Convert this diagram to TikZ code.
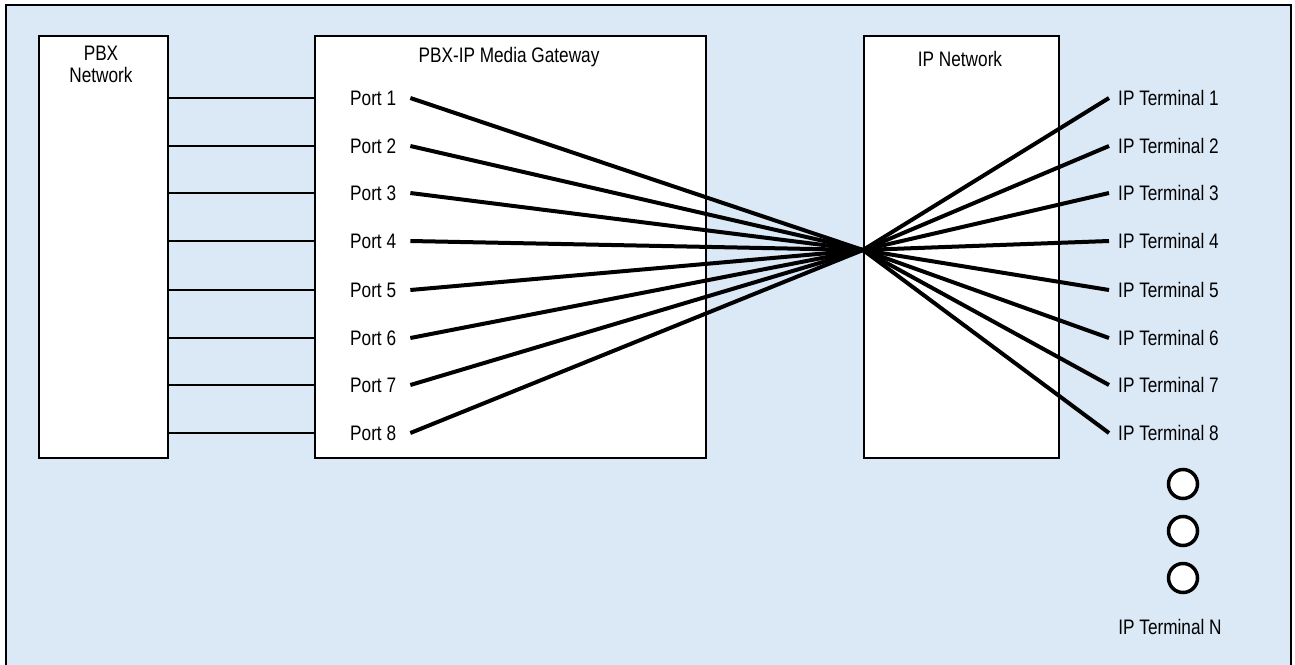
\documentclass[tikz,border=0pt]{standalone}
\usepackage{fontspec}
\setmainfont{Liberation Sans}[FakeStretch=0.82]
\definecolor{bgblue}{RGB}{219,232,246}
\begin{document}
\begin{tikzpicture}[x=1pt,y=-1pt,
  box/.style={draw=black, line width=2pt, fill=white, inner sep=0pt, anchor=north west, minimum height=422pt},
  txt/.style={inner sep=0pt, font=\fontsize{21}{22}\selectfont, align=center},
  portlbl/.style={txt, anchor=west},
  thin/.style={line width=2pt},
  thick/.style={line width=4pt},
  dot/.style={circle, draw=black, line width=3.5pt, fill=white, minimum size=29pt, inner sep=0pt}]
\useasboundingbox (0,0) rectangle (1295,664);
\fill[white] (0,0) rectangle (1295,664);
\draw[line width=2pt, fill=bgblue] (6,5) rectangle (1291,672);

\node[box, minimum width=129pt] (pbx) at (38,35) {};
\node[box, minimum width=391pt] (gw) at (314,35) {};
\node[box, minimum width=195pt] (ipn) at (863,35) {};

\node[txt] (pbxlbl) at (101,64) {PBX\\Network};
\node[txt] (gwlbl) at (509,57) {PBX-IP Media Gateway};
\node[txt] (ipnlbl) at (960,59) {IP Network};

\coordinate (hub) at (863,250);

\foreach \i/\y in {1/98,2/146,3/193,4/241,5/290,6/338,7/385,8/433}{
  \node[portlbl] (p\i) at (350,\y) {Port \i};
  \node[portlbl] (t\i) at (1118,\y) {IP Terminal \i};
  \draw[thin] (pbx.east |- p\i.west) -- (gw.west |- p\i.west);
  \draw[thick] ([xshift=14pt]p\i.east) -- (hub);
  \draw[thick] (hub) -- ([xshift=-9pt]t\i.west);
}

\node[dot] (c1) at (1183,484) {};
\node[dot] (c2) at (1183,531) {};
\node[dot] (c3) at (1183,578) {};
\node[txt] (tn) at (1170,627) {IP Terminal N};
\end{tikzpicture}
\end{document}
